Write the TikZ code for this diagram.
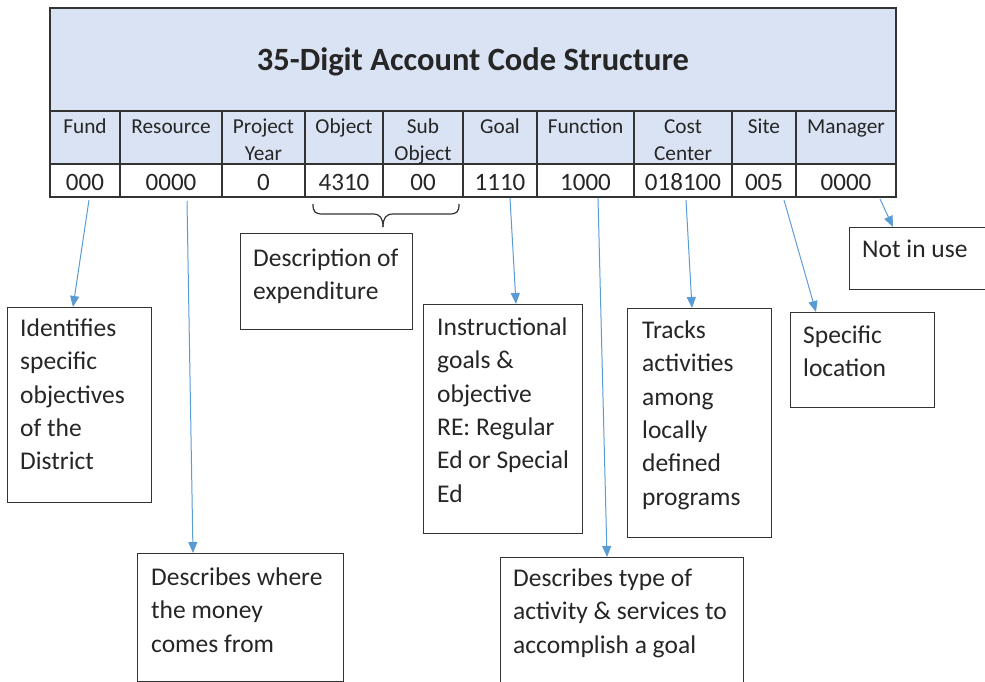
\documentclass[tikz,border=0pt]{standalone}
\usepackage{fontspec}
\setmainfont{Carlito}
\usetikzlibrary{arrows.meta}
\definecolor{hdr}{HTML}{DAE3F3}
\definecolor{arrc}{HTML}{5B9BD5}
\definecolor{ink}{HTML}{262626}
\definecolor{edge}{HTML}{333333}
\newcommand\fls{\rule{0pt}{24pt}}
\newcommand\lls{\rule{0pt}{20pt}}
\tikzset{
  tline/.style={draw=edge, line width=1.1pt},
  infobox/.style={draw=edge, line width=1.3pt, fill=white, anchor=north west, inner sep=0pt},
  infotext/.style={anchor=north west, inner sep=0pt, align=left, text=ink,
    font=\fontsize{25.5}{33.4}\selectfont},
  lbl/.style={anchor=north, inner sep=0pt, align=center, text=ink,
    font=\fontsize{21.3}{27}\selectfont},
  val/.style={anchor=base, inner sep=0pt, text=ink, font=\fontsize{25}{30}\selectfont},
  arr/.style={draw=arrc, line width=1pt, -{Triangle[length=11pt,width=9pt]}},
  brc/.style={draw=edge, line width=1.2pt},
}
\begin{document}
\begin{tikzpicture}[x=1pt,y=-1pt]
\useasboundingbox (0,0) rectangle (985,682);
% table
\fill[hdr] (50,8) rectangle (896,164);
\fill[white] (50,164) rectangle (896,197);
\draw[tline] (50,8) rectangle (896,197);
\draw[tline] (50,111) -- (896,111);
\draw[tline] (50,164) -- (896,164);
\foreach \x in {120,222,305,383,463,537,634,732,796}
  \draw[tline] (\x,111) -- (\x,197);
\node[anchor=center, inner sep=0pt, text=ink, font=\fontsize{32.5}{36}\selectfont\bfseries] (title) at (473,62) {35-Digit Account Code Structure};
% labels
\node[lbl] (lfund) at (85,113) {\lls Fund};
\node[lbl] (lres) at (171,113) {\lls Resource};
\node[lbl] (lpy) at (263.5,113) {\lls Project\\Year};
\node[lbl] (lobj) at (344,113) {\lls Object};
\node[lbl] (lsub) at (423,113) {\lls Sub\\Object};
\node[lbl] (lgoal) at (500,113) {\lls Goal};
\node[lbl] (lfun) at (585.5,113) {\lls Function};
\node[lbl] (lcc) at (683,113) {\lls Cost\\Center};
\node[lbl] (lsite) at (764,113) {\lls Site};
\node[lbl] (lman) at (846,113) {\lls Manager};
% values
\node[val] (vfund) at (85,190) {000};
\node[val] (vres) at (171,190) {0000};
\node[val] (vpy) at (263.5,190) {0};
\node[val] (vobj) at (344,190) {4310};
\node[val] (vsub) at (423,190) {00};
\node[val] (vgoal) at (500,190) {1110};
\node[val] (vfun) at (585.5,190) {1000};
\node[val] (vcc) at (683,190) {018100};
\node[val] (vsite) at (764,190) {005};
\node[val] (vman) at (846,190) {0000};
% brace
\draw[brc] (313,204) .. controls (313,212) and (315,214) .. (323,214)
  -- (373,214) .. controls (380,214) and (383,218) .. (383,227);
\draw[brc] (459,204) .. controls (459,212) and (457,214) .. (449,214)
  -- (393,214) .. controls (386,214) and (383,218) .. (383,227);
% boxes
\node[infobox, minimum width=172pt, minimum height=96pt] (bdesc) at (240,233) {};
\node[infotext] (tdesc) at (253,242) {\fls Description of\\expenditure};
\node[infobox, minimum width=144pt, minimum height=195pt] (bfund) at (7,307) {};
\node[infotext] (tfund) at (20,312) {\fls Identifies\\specific\\objectives\\of the\\District};
\node[infobox, minimum width=206pt, minimum height=128pt] (bres) at (137,553) {};
\node[infotext] (tres) at (151,561) {\fls Describes where\\the money\\comes from};
\node[infobox, minimum width=159pt, minimum height=229pt] (bgoal) at (423,304) {};
\node[infotext] (tgoal) at (437,311) {\fls Instructional\\goals \&\\objective\\RE: Regular\\Ed or Special\\Ed};
\node[infobox, minimum width=243pt, minimum height=140pt] (bfun) at (500,557) {};
\node[infotext] (tfun) at (513,562) {\fls Describes type of\\activity \& services to\\accomplish a goal};
\node[infobox, minimum width=144pt, minimum height=229pt] (bcc) at (627,308) {};
\node[infotext] (tcc) at (642,314) {\fls Tracks\\activities\\among\\locally\\defined\\programs};
\node[infobox, minimum width=144pt, minimum height=95pt] (bsite) at (790,312) {};
\node[infotext] (tsite) at (803,319) {\fls Specific\\location};
\node[infobox, minimum width=150pt, minimum height=62pt] (bman) at (849,227) {};
\node[infotext] (tman) at (862,233) {\fls Not in use};
% arrow coordinates
\coordinate (sfund) at (89,200);  \coordinate (efund) at (73,307);
\coordinate (sres) at (187,201);  \coordinate (eres) at (193,553);
\coordinate (sgoal) at (510,198); \coordinate (egoal) at (516,304);
\coordinate (sfun) at (598,198);  \coordinate (efun) at (607,557);
\coordinate (scc) at (686,200);   \coordinate (ecc) at (692,308);
\coordinate (ssite) at (784,200); \coordinate (esite) at (816,312);
\coordinate (sman) at (880,199);  \coordinate (eman) at (893,227);
\draw[arr] (sfund) -- (efund);
\draw[arr] (sres) -- (eres);
\draw[arr] (sgoal) -- (egoal);
\draw[arr] (sfun) -- (efun);
\draw[arr] (scc) -- (ecc);
\draw[arr] (ssite) -- (esite);
\draw[arr] (sman) -- (eman);
\end{tikzpicture}
\end{document}
